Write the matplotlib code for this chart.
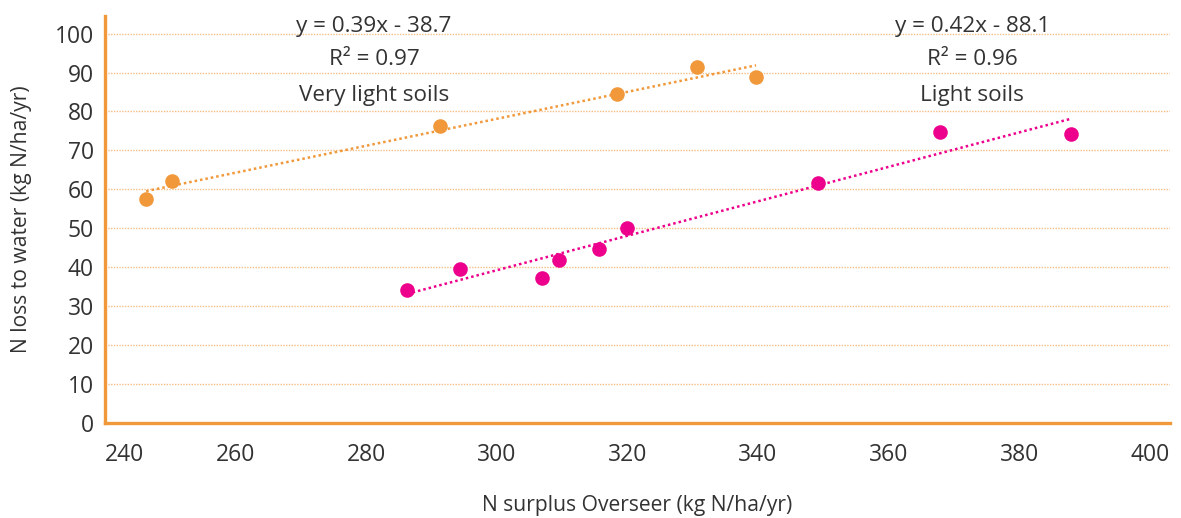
import matplotlib
matplotlib.use("Agg")
import matplotlib.pyplot as plt
import numpy as np

plt.rcParams['font.family'] = ['Open Sans', 'DejaVu Sans']

# Data
very_light_x = [246.3, 250.3, 291.3, 318.4, 330.7, 339.7]
very_light_y = [57.5, 62.2, 76.3, 84.5, 91.3, 88.9]
light_x = [286.3, 294.4, 307.0, 309.5, 315.7, 320.0, 349.2, 367.9, 387.9]
light_y = [34.2, 39.7, 37.3, 41.8, 44.8, 50.1, 61.7, 74.8, 74.2]

x_ticks = [240, 260, 280, 300, 320, 340, 360, 380, 400]
y_ticks = [0, 10, 20, 30, 40, 50, 60, 70, 80, 90, 100]

eq_very_light = ["y = 0.39x - 38.7", "R\u00b2 = 0.97", "Very light soils"]
eq_light = ["y = 0.42x - 88.1", "R\u00b2 = 0.96", "Light soils"]

ORANGE = "#F0983A"
PINK = "#EC008C"
GRID = "#F5BE86"
TEXT = "#333333"

fig = plt.figure(figsize=(11.81, 5.18), dpi=100)
ax = fig.add_axes([105/1181, 1-423.3/518, (1170-105)/1181, (423.3-16)/518])

ax.set_xlim(240, 403.1)
ax.set_ylim(0, 104.5)

for yt in y_ticks[1:]:
    ax.axhline(yt, color=GRID, lw=1.0, ls=(0, (1, 1)), zorder=1)

# trendlines
for xs, ys, col in [(very_light_x, very_light_y, ORANGE), (light_x, light_y, PINK)]:
    xs = np.array(xs); ys = np.array(ys)
    m, b = np.polyfit(xs, ys, 1)
    xx = np.array([xs.min(), xs.max()])
    ax.plot(xx, m*xx + b, color=col, lw=1.8, ls=(0, (1, 1.2)), zorder=2)

ax.scatter(very_light_x, very_light_y, s=110, color=ORANGE, zorder=3, linewidths=0)
ax.scatter(light_x, light_y, s=110, color=PINK, zorder=3, linewidths=0)

ax.set_xticks(x_ticks)
ax.set_yticks(y_ticks)
ax.tick_params(axis='both', length=0, labelsize=16.5, colors=TEXT, pad=8)
ax.tick_params(axis='x', pad=14)
labels = ax.get_xticklabels()
labels[0].set_horizontalalignment('left')

for s in ['top', 'right']:
    ax.spines[s].set_visible(False)
for s in ['left', 'bottom']:
    ax.spines[s].set_color(ORANGE)
    ax.spines[s].set_linewidth(2.4)

ax.set_xlabel("N surplus Overseer (kg N/ha/yr)", fontsize=15.2, color=TEXT, labelpad=20)
ax.set_ylabel("N loss to water (kg N/ha/yr)", fontsize=15.2, color=TEXT, labelpad=16)

ys_txt = [101.8, 93.4, 84.2]
for t, yy in zip(eq_very_light, ys_txt):
    ax.text(281.2, yy, t, ha='center', va='center', fontsize=16.2, color=TEXT, clip_on=False)
for t, yy in zip(eq_light, ys_txt):
    ax.text(372.8, yy, t, ha='center', va='center', fontsize=16.2, color=TEXT, clip_on=False)

fig.savefig("out.png", dpi=100)
